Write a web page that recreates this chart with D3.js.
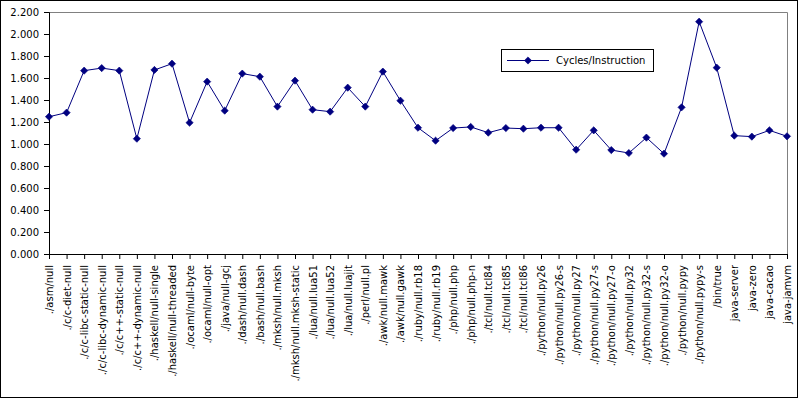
<!DOCTYPE html>
<html>
<head>
<meta charset="utf-8">
<script src="https://cdn.jsdelivr.net/npm/d3@7"></script>
<style>
  html, body { margin: 0; padding: 0; background: #fff; }
  svg { display: block; font-family: "DejaVu Sans", Verdana, sans-serif; }
</style>
</head>
<body>
<svg id="chart" width="800" height="399"></svg>
<script>
const categories = [
  "./asm/null", "./c/c-diet-null", "./c/c-libc-static-null", "./c/c-libc-dynamic-null",
  "./c/c++-static-null", "./c/c++-dynamic-null", "./haskell/null-single", "./haskell/null-threaded",
  "./ocaml/null-byte", "./ocaml/null-opt", "./java/null-gcj", "./dash/null.dash",
  "./bash/null.bash", "./mksh/null.mksh", "./mksh/null.mksh-static", "./lua/null.lua51",
  "./lua/null.lua52", "./lua/null.luajit", "./perl/null.pl", "./awk/null.mawk",
  "./awk/null.gawk", "./ruby/null.rb18", "./ruby/null.rb19", "./php/null.php",
  "./php/null.php-n", "./tcl/null.tcl84", "./tcl/null.tcl85", "./tcl/null.tcl86",
  "./python/null.py26", "./python/null.py26-s", "./python/null.py27", "./python/null.py27-s",
  "./python/null.py27-o", "./python/null.py32", "./python/null.py32-s", "./python/null.py32-o",
  "./python/null.pypy", "./python/null.pypy-s", "/bin/true", "java-server",
  "java-zero", "java-cacao", "java-jamvm"
];
const cyclesPerInstruction = [
  1.248, 1.285, 1.667, 1.690, 1.667, 1.048, 1.673, 1.730,
  1.194, 1.567, 1.303, 1.640, 1.612, 1.340, 1.576, 1.312,
  1.294, 1.512, 1.340, 1.658, 1.394, 1.148, 1.030, 1.145,
  1.155, 1.103, 1.145, 1.139, 1.148, 1.148, 0.948, 1.124,
  0.945, 0.918, 1.058, 0.912, 1.333, 2.112, 1.694, 1.076,
  1.067, 1.124, 1.070
];
const seriesName = "Cycles/Instruction";
const yTicks = [0, 0.2, 0.4, 0.6, 0.8, 1.0, 1.2, 1.4, 1.6, 1.8, 2.0, 2.2];

(function () {
const svg = d3.select("#chart");
const pL = 49, pR = 787, pT = 12, pB = 254;
const color = "#000080";

// outer border
svg.append("rect").attr("x", 0.5).attr("y", 0.5).attr("width", 797).attr("height", 397)
  .attr("fill", "#fff").attr("stroke", "#000").attr("stroke-width", 1);

const x = d3.scalePoint().domain(categories).range([pL, pR]);
const y = d3.scaleLinear().domain([0, 2.2]).range([pB, pT]);

// plot frame (top and right, gray)
svg.append("path")
  .attr("d", `M${pL},${pT + 0.5}H${pR + 0.5}V${pB}`)
  .attr("fill", "none").attr("stroke", "#808080").attr("stroke-width", 1);

// y axis
const yAxis = svg.append("g").attr("transform", `translate(${pL},0)`)
  .call(d3.axisLeft(y).tickValues(yTicks).tickFormat(d3.format(".3f")).tickSize(5).tickPadding(5));
yAxis.selectAll("text").attr("font-size", 10).attr("font-family", "DejaVu Sans").attr("fill", "#000");
yAxis.selectAll("line, path").attr("stroke", "#000");

// x axis
const xAxis = svg.append("g").attr("transform", `translate(0,${pB})`)
  .call(d3.axisBottom(x).tickSize(5).tickPadding(0));
xAxis.selectAll("line, path").attr("stroke", "#000");
xAxis.selectAll("text")
  .attr("font-size", 10).attr("font-family", "DejaVu Sans").attr("fill", "#000")
  .attr("text-anchor", "end")
  .attr("transform", "rotate(-90)")
  .attr("x", -11).attr("y", 0).attr("dy", "0.35em");

// line
const pts = categories.map((c, i) => [x(c), y(cyclesPerInstruction[i])]);
svg.append("path")
  .attr("d", d3.line()(pts))
  .attr("fill", "none").attr("stroke", color).attr("stroke-width", 1);

const marker = d3.symbol().type(d3.symbolSquare).size(26);
svg.append("g").selectAll("path").data(pts).join("path")
  .attr("d", marker)
  .attr("transform", d => `translate(${d[0]},${d[1]}) rotate(45)`)
  .attr("fill", color).attr("stroke", color).attr("stroke-width", 0.6);

// legend
const lg = svg.append("g");
lg.append("rect").attr("x", 501.5).attr("y", 49.5).attr("width", 152).attr("height", 22)
  .attr("fill", "#fff").attr("stroke", "#000").attr("stroke-width", 1);
lg.append("line").attr("x1", 507).attr("x2", 549).attr("y1", 60.5).attr("y2", 60.5)
  .attr("stroke", color).attr("stroke-width", 1);
lg.append("path").attr("d", marker).attr("transform", "translate(528,60.5) rotate(45)")
  .attr("fill", color).attr("stroke", color).attr("stroke-width", 0.6);
lg.append("text").attr("x", 556).attr("y", 60.5).attr("dy", "0.35em")
  .attr("font-size", 10).attr("fill", "#000").text(seriesName);
})();
</script>
</body>
</html>
